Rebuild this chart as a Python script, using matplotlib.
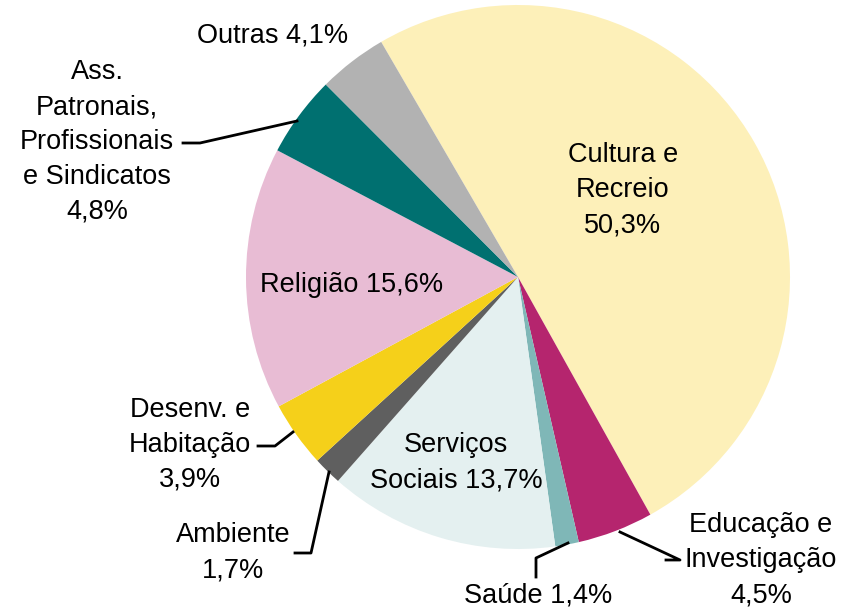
import matplotlib.pyplot as plt

plt.rcParams['font.family'] = ['Liberation Sans', 'DejaVu Sans']

# dados (percentagens)
categorias = ['Cultura e Recreio', 'Educação e Investigação', 'Saúde',
              'Serviços Sociais', 'Ambiente', 'Desenv. e Habitação',
              'Religião', 'Ass. Patronais, Profissionais e Sindicatos', 'Outras']
valores = [50.3, 4.5, 1.4, 13.7, 1.7, 3.9, 15.6, 4.8, 4.1]
cores = ['#FDF0B9', '#B5256E', '#7FB7B7', '#E4F0F0', '#5F5F5F',
         '#F5D01A', '#E8BCD4', '#007070', '#B2B2B2']
rotulos = ['Cultura e\nRecreio\n50,3%', 'Educação e\nInvestigação\n4,5%',
           'Saúde 1,4%', 'Serviços\nSociais 13,7%', 'Ambiente\n1,7%',
           'Desenv. e\nHabitação\n3,9%', 'Religião 15,6%',
           'Ass.\nPatronais,\nProfissionais\ne Sindicatos\n4,8%',
           'Outras 4,1%']

W, H = 846, 610
fig = plt.figure(figsize=(W / 100, H / 100), dpi=100)
ax = fig.add_axes([0, 0, 1, 1])
ax.set_xlim(0, W)
ax.set_ylim(0, H)
ax.set_aspect('equal')
ax.axis('off')

cx, cy, r = 518, 277, 272
ax.pie(valores, colors=cores, startangle=120.2, counterclock=False,
       center=(cx, H - cy), radius=r, wedgeprops=dict(linewidth=0))
ax.set_xlim(0, W)
ax.set_ylim(0, H)

# posições dos rótulos (pixels a partir do topo)
pos = [(623, 190), (761, 560), (538, 595), (456, 463), (233, 553),
       (190, 445), (352, 285), (97, 142), (273, 35)]
for txt, (x, y) in zip(rotulos, pos):
    ax.text(x, H - y, txt, ha='center', va='center', fontsize=19.5,
            linespacing=1.45, color='black')

# linhas de chamada
linhas = [
    [(183, 143), (200, 143), (297, 121)],
    [(258, 446), (275, 446), (293, 432)],
    [(295, 553), (311, 553), (329, 472)],
    [(536, 577), (536, 558), (568, 543)],
    [(666, 560), (680, 560), (620, 532)],
]
for pts in linhas:
    xs = [p[0] for p in pts]
    ys = [H - p[1] for p in pts]
    ax.plot(xs, ys, color='black', lw=2)

fig.savefig('out.png', dpi=100)
